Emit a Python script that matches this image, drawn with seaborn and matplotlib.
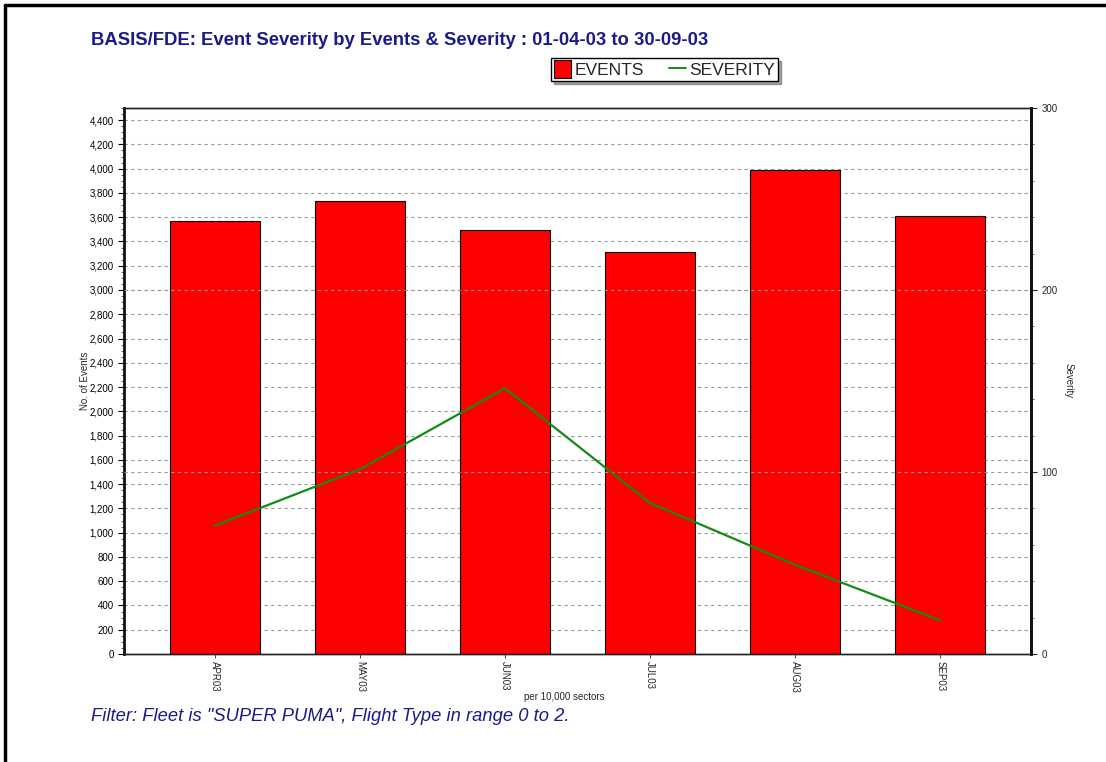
import numpy as np
import pandas as pd
import matplotlib
matplotlib.use("Agg")
import matplotlib.pyplot as plt
import seaborn as sns
from matplotlib.lines import Line2D
from matplotlib.patches import Patch
from matplotlib.ticker import MultipleLocator, FuncFormatter

# data
months = ["APR03", "MAY03", "JUN03", "JUL03", "AUG03", "SEP03"]
events = [3570, 3735, 3495, 3315, 3985, 3610]
severity = [70.5, 101.5, 146, 83, 49, 18.5]

sns.set_theme(style="white")
plt.rcParams['font.family'] = ['Liberation Sans', 'DejaVu Sans']

navy = "#1a1a8c"
df = pd.DataFrame({"month": months, "events": events, "severity": severity})

fig = plt.figure(figsize=(11.06, 7.62), dpi=100)
ax = fig.add_axes([0.1121, 0.1417, 0.8201, 0.7166])

# grid first (behind the bars)
ax.set_axisbelow(True)
ax.yaxis.grid(True, color="#999999", linestyle=(0, (3, 3)), linewidth=0.8)

sns.barplot(data=df, x="month", y="events", color="#ff0000", saturation=1,
            width=0.62, edgecolor="black", linewidth=0.8, ax=ax)
ax.set_xlim(-0.625, 5.625)
ax.set_ylim(0, 4500)
ax.yaxis.set_major_locator(MultipleLocator(200))
ax.yaxis.set_minor_locator(MultipleLocator(50))
ax.yaxis.set_major_formatter(FuncFormatter(lambda v, p: f"{int(v):,}"))
ax.tick_params(axis="y", which="major", direction="out", length=4, width=0.8,
               labelsize=7, colors="black", left=True)
ax.tick_params(axis="y", which="minor", direction="out", length=2, width=0.6,
               left=True, color="#444444")
ax.tick_params(axis="x", direction="out", length=3, width=0.6, bottom=True,
               labelsize=7, pad=2)
for lab in ax.get_xticklabels():
    lab.set_rotation(270)
    lab.set_va("top")
    lab.set_ha("center")
ax.set_xlabel("per 10,000 sectors", fontsize=7)
ax.xaxis.set_label_coords(0.485, -0.07)
ax.set_ylabel("No. of Events", fontsize=7)
ax.yaxis.set_label_coords(-0.037, 0.5)

ax2 = ax.twinx()
ax2.set_ylim(0, 300)
for v in [100, 200]:
    ax2.axhline(v, color="#999999", linestyle=(0, (3, 3)), linewidth=0.8, zorder=0)
sns.lineplot(data=df, x="month", y="severity", color="#138a13", linewidth=1.6,
             ax=ax2, legend=False)
ax2.set_xlim(-0.625, 5.625)
ax2.yaxis.set_major_locator(MultipleLocator(100))
ax2.yaxis.set_minor_locator(MultipleLocator(20))
ax2.tick_params(axis="y", which="major", direction="out", length=4, width=0.8,
                labelsize=7, right=True)
ax2.tick_params(axis="y", which="minor", direction="out", length=2, width=0.6,
                right=True, color="#444444")
ax2.set_ylabel("Severity", fontsize=7, rotation=270, va="center")
ax2.yaxis.set_label_coords(1.041, 0.5)

for a in (ax, ax2):
    a.spines["left"].set_linewidth(2)
    a.spines["right"].set_linewidth(2)
    a.spines["left"].set_color("#111111")
    a.spines["right"].set_color("#111111")
    for s in ("top", "bottom"):
        a.spines[s].set_linestyle((0, (2, 1)))
        a.spines[s].set_linewidth(1)
        a.spines[s].set_color("#222222")
ax2.spines["left"].set_visible(False)

# title, legend, filter note
fig.text(0.0823, 0.947, "BASIS/FDE: Event Severity by Events & Severity : 01-04-03 to 30-09-03",
         fontsize=13.3, fontweight="bold", color=navy, va="center")
handles = [Patch(facecolor="#ff0000", edgecolor="black", linewidth=0.8),
           Line2D([0], [0], color="#138a13", linewidth=1.4)]
leg = fig.legend(handles, ["EVENTS", "SEVERITY"], loc="center",
                 bbox_to_anchor=(0.601, 0.909), ncol=2, frameon=True,
                 fancybox=False, shadow=True, edgecolor="black", fontsize=12.5,
                 handlelength=1.0, handleheight=1.2, handletextpad=0.2,
                 columnspacing=1.4, borderpad=0.15, borderaxespad=0)
leg.get_frame().set_linewidth(1)
fig.text(0.0823, 0.06, 'Filter: Fleet is "SUPER PUMA", Flight Type in range 0 to 2.',
         fontsize=13.2, style="italic", color=navy, va="center")

# page frame (top and left edges)
fig.add_artist(Line2D([0.0045, 1.0], [0.9935, 0.9935], color="black", linewidth=2.5,
                      transform=fig.transFigure))
fig.add_artist(Line2D([0.0045, 0.0045], [0.0, 0.9935], color="black", linewidth=2.5,
                      transform=fig.transFigure))

fig.savefig("out.png", dpi=100, facecolor="white")
